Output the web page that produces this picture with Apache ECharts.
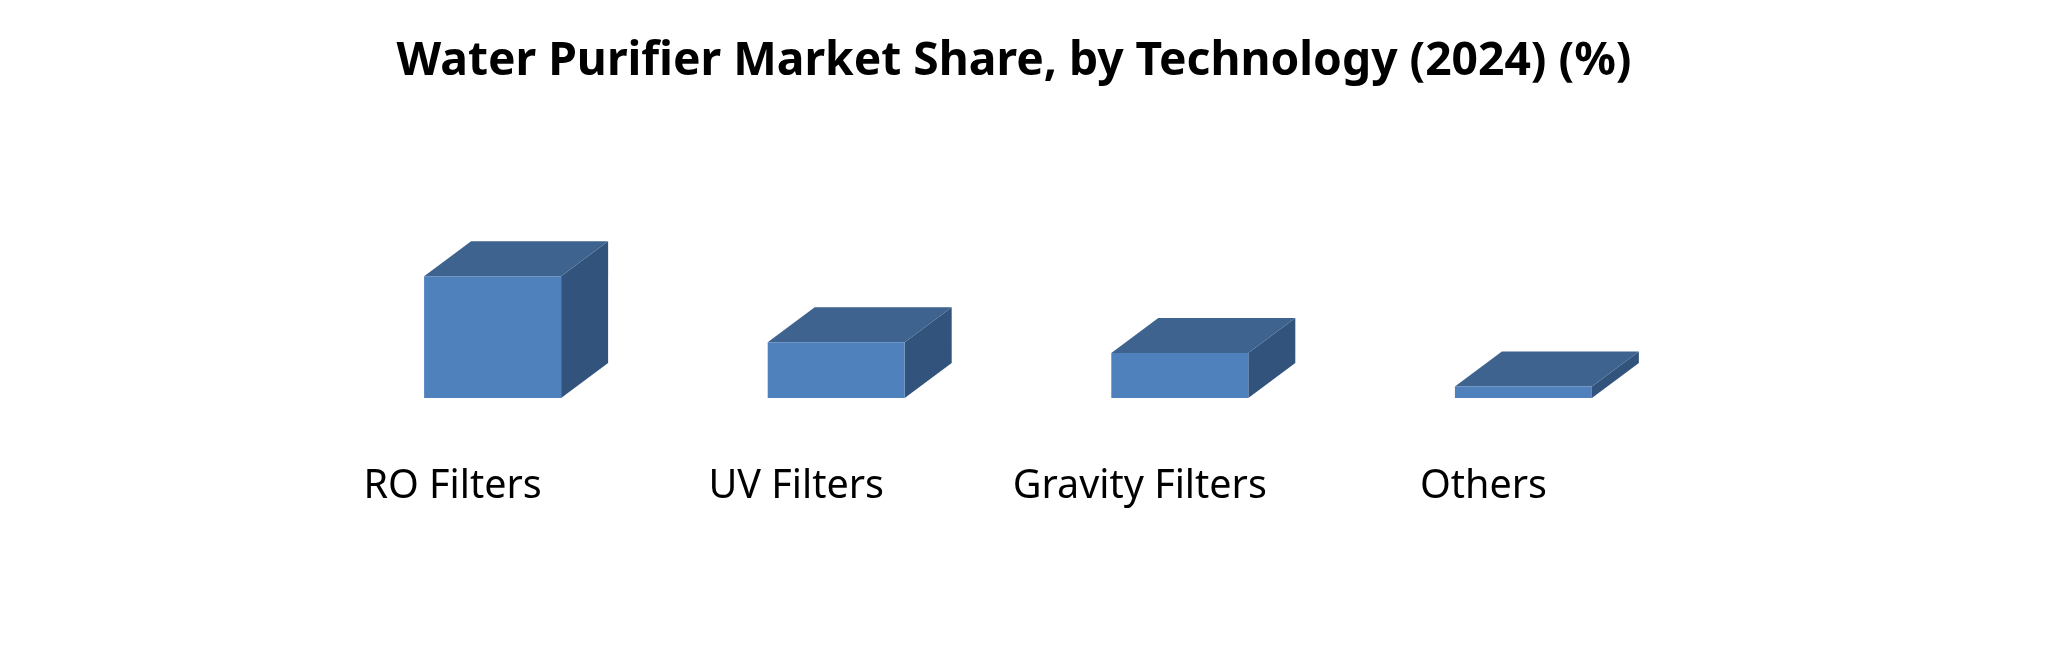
<!DOCTYPE html>
<html>
<head>
<meta charset="utf-8">
<style>html,body{margin:0;padding:0;background:#fff}#c{width:2051px;height:670px}</style>
<script src="https://cdn.jsdelivr.net/npm/echarts@6/dist/echarts.min.js"></script>
</head>
<body>
<div id="c"></div>
<script>
var categories = ['RO Filters', 'UV Filters', 'Gravity Filters', 'Others'];
var shareValues = [52.5, 24, 19.4, 5];
var titleText = 'Water Purifier Market Share, by Technology (2024) (%)';

var chart = echarts.init(document.getElementById('c'), null, {renderer: 'canvas'});
var depthX = 47, depthY = 35, barWidth = 137;

function renderBox(params, api) {
  var i = api.value(0);
  var top = api.coord([i, api.value(1)]);
  var base = api.coord([i, 0]);
  var l = top[0] - barWidth / 2, r = top[0] + barWidth / 2, t = top[1], b = base[1];
  return {
    type: 'group',
    children: [
      {type: 'polygon', shape: {points: [[r, t], [r + depthX, t - depthY], [r + depthX, b - depthY], [r, b]]},
       style: {fill: '#32547C'}},
      {type: 'polygon', shape: {points: [[l, t], [l + depthX, t - depthY], [r + depthX, t - depthY], [r, t]]},
       style: {fill: '#3E638F'}},
      {type: 'rect', shape: {x: l, y: t, width: barWidth, height: b - t},
       style: {fill: '#4F81BD'}}
    ]
  };
}

chart.setOption({
  animation: false,
  backgroundColor: '#ffffff',
  title: {
    text: titleText,
    left: 1009, top: 34, textAlign: 'center',
    textStyle: {fontFamily: 'Noto Sans', fontWeight: 'bold', fontSize: 46.2, color: '#000'}
  },
  grid: {left: 320.8, width: 1374.4, top: 166, height: 232, containLabel: false},
  xAxis: {
    type: 'category',
    data: categories,
    axisLine: {show: false},
    axisTick: {show: false},
    axisLabel: {
      interval: 0, margin: 69, padding: [0, 80, 0, 0],
      fontFamily: 'Noto Sans', fontSize: 39.5, color: '#000'
    }
  },
  yAxis: {type: 'value', min: 0, max: 100, show: false},
  series: [{
    type: 'custom',
    renderItem: renderBox,
    encode: {x: 0, y: 1},
    data: shareValues.map(function (v, i) { return [i, v]; })
  }]
});
</script>
</body>
</html>
